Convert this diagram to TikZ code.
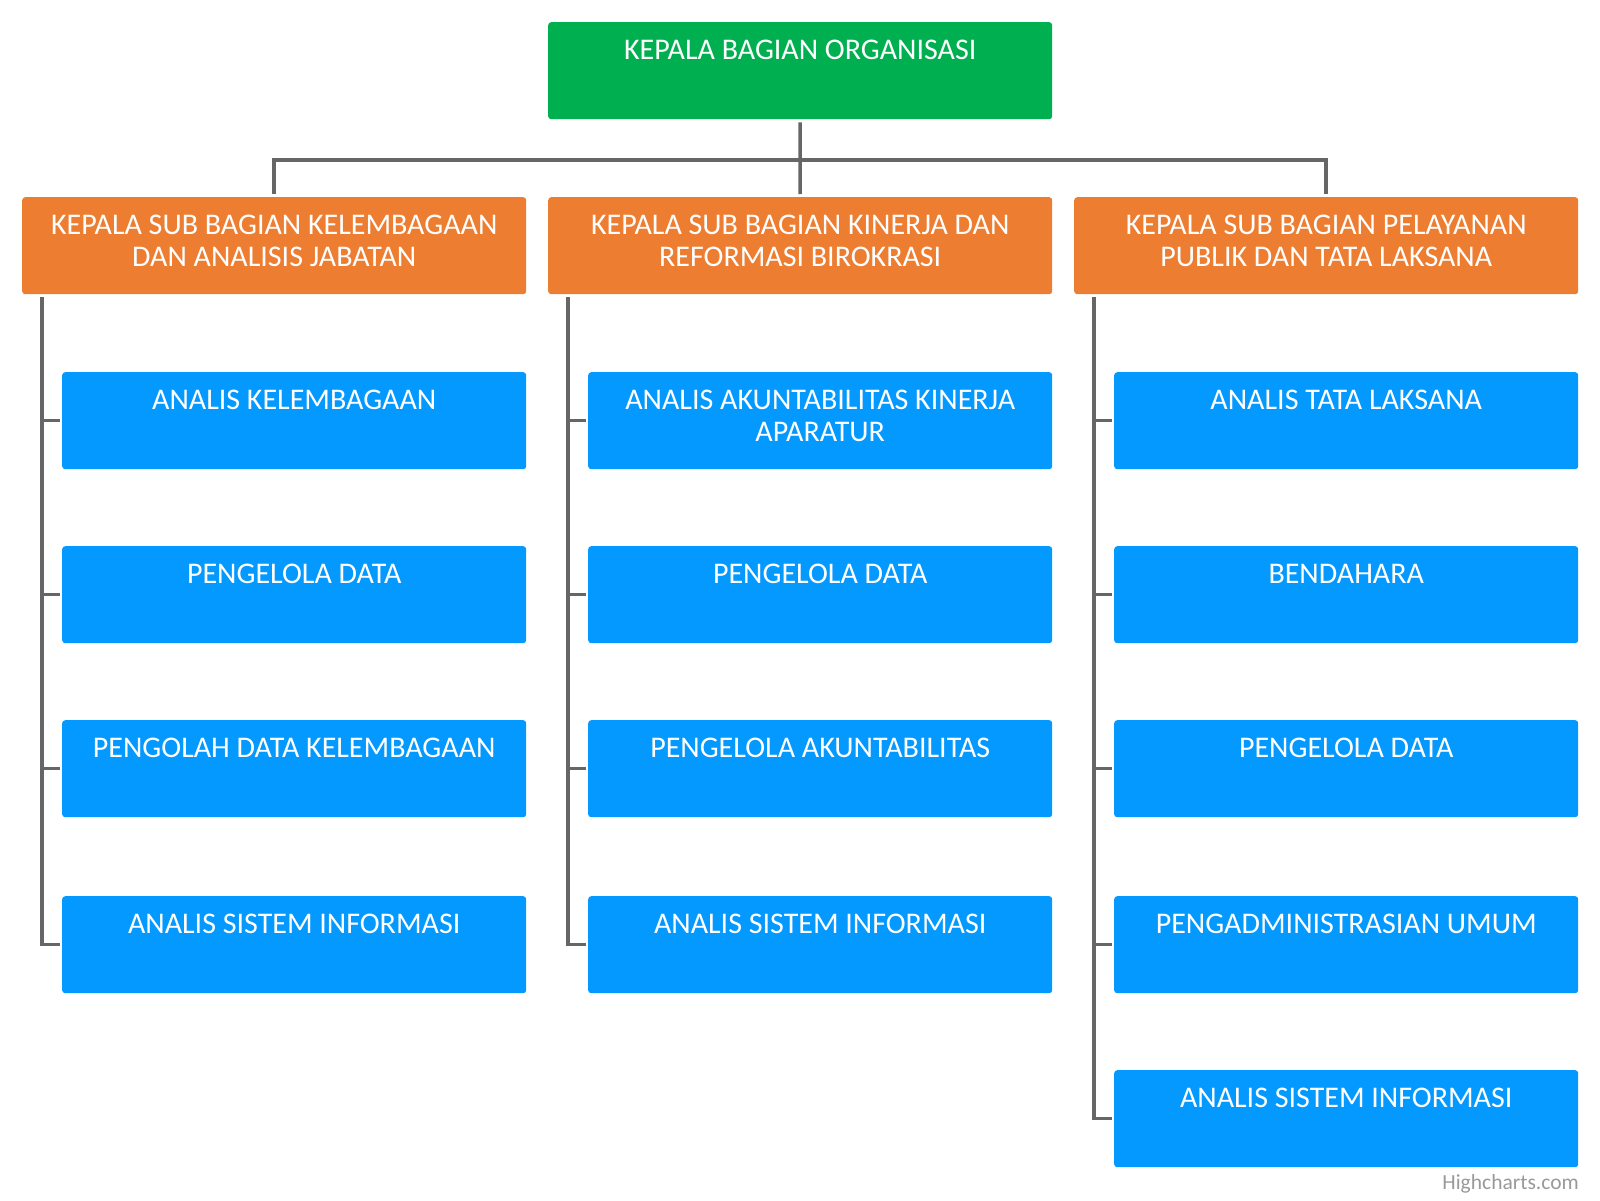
\documentclass[tikz,border=0pt]{standalone}
\usepackage{fontspec}
\setmainfont{Carlito}
\definecolor{cgreen}{HTML}{00B050}
\definecolor{corange}{HTML}{ED7D31}
\definecolor{cblue}{HTML}{0399FF}
\definecolor{linegray}{HTML}{666666}
\definecolor{creditgray}{HTML}{999999}
\tikzset{
  conn/.style={draw=linegray, line width=3.5pt},
  orgbox/.style={fill=#1, rounded corners=3pt, inner sep=0pt, anchor=north west,
    text=white, font=\fontsize{30}{32}\selectfont},
}
\newcommand\boxtxt[2]{\parbox[t][97pt][t]{#1pt}{\centering\rule{0pt}{37pt}#2\par}}
\begin{document}
\begin{tikzpicture}[x=1pt,y=-1pt]
\useasboundingbox (0,0) rectangle (1600,1200);
% top
\node[orgbox=cgreen] (g) at (548,22) {\boxtxt{504}{KEPALA BAGIAN ORGANISASI}};
% level 2
\node[orgbox=corange] (o1) at (22,197) {\boxtxt{504}{KEPALA SUB BAGIAN KELEMBAGAAN\\DAN ANALISIS JABATAN}};
\node[orgbox=corange] (o2) at (548,197) {\boxtxt{504}{KEPALA SUB BAGIAN KINERJA DAN\\REFORMASI BIROKRASI}};
\node[orgbox=corange] (o3) at (1074,197) {\boxtxt{504}{KEPALA SUB BAGIAN PELAYANAN\\PUBLIK DAN TATA LAKSANA}};
% level 3, column 1
\node[orgbox=cblue] (b11) at (62,372) {\boxtxt{464}{ANALIS KELEMBAGAAN}};
\node[orgbox=cblue] (b12) at (62,546) {\boxtxt{464}{PENGELOLA DATA}};
\node[orgbox=cblue] (b13) at (62,720) {\boxtxt{464}{PENGOLAH DATA KELEMBAGAAN}};
\node[orgbox=cblue] (b14) at (62,896) {\boxtxt{464}{ANALIS SISTEM INFORMASI}};
% column 2
\node[orgbox=cblue] (b21) at (588,372) {\boxtxt{464}{ANALIS AKUNTABILITAS KINERJA\\APARATUR}};
\node[orgbox=cblue] (b22) at (588,546) {\boxtxt{464}{PENGELOLA DATA}};
\node[orgbox=cblue] (b23) at (588,720) {\boxtxt{464}{PENGELOLA AKUNTABILITAS}};
\node[orgbox=cblue] (b24) at (588,896) {\boxtxt{464}{ANALIS SISTEM INFORMASI}};
% column 3
\node[orgbox=cblue] (b31) at (1114,372) {\boxtxt{464}{ANALIS TATA LAKSANA}};
\node[orgbox=cblue] (b32) at (1114,546) {\boxtxt{464}{BENDAHARA}};
\node[orgbox=cblue] (b33) at (1114,720) {\boxtxt{464}{PENGELOLA DATA}};
\node[orgbox=cblue] (b34) at (1114,896) {\boxtxt{464}{PENGADMINISTRASIAN UMUM}};
\node[orgbox=cblue] (b35) at (1114,1070) {\boxtxt{464}{ANALIS SISTEM INFORMASI}};
% connectors top
\coordinate (bus) at (800,160);
\draw[conn] ([yshift=-3pt]g.south) -- (bus);
\draw[conn] (bus) -| ([yshift=3pt]o1.north);
\draw[conn] (bus) -- ([yshift=3pt]o2.north);
\draw[conn] (bus) -| ([yshift=3pt]o3.north);
% trunks
\coordinate (t1) at ([xshift=20pt,yshift=-3pt]o1.south west);
\coordinate (t2) at ([xshift=20pt,yshift=-3pt]o2.south west);
\coordinate (t3) at ([xshift=20pt,yshift=-3pt]o3.south west);
\draw[conn] (t1) |- ([xshift=-2pt]b14.west);
\draw[conn] (t2) |- ([xshift=-2pt]b24.west);
\draw[conn] (t3) |- ([xshift=-2pt]b35.west);
\foreach \b in {b11,b12,b13}{\draw[conn] (t1 |- \b.west) -- ([xshift=-2pt]\b.west);}
\foreach \b in {b21,b22,b23}{\draw[conn] (t2 |- \b.west) -- ([xshift=-2pt]\b.west);}
\foreach \b in {b31,b32,b33,b34}{\draw[conn] (t3 |- \b.west) -- ([xshift=-2pt]\b.west);}
% credit
\node[font=\fontsize{21.5}{24}\selectfont, text=creditgray, anchor=base east, inner sep=0pt] (credit) at (1579,1189) {Highcharts.com};
\end{tikzpicture}
\end{document}
